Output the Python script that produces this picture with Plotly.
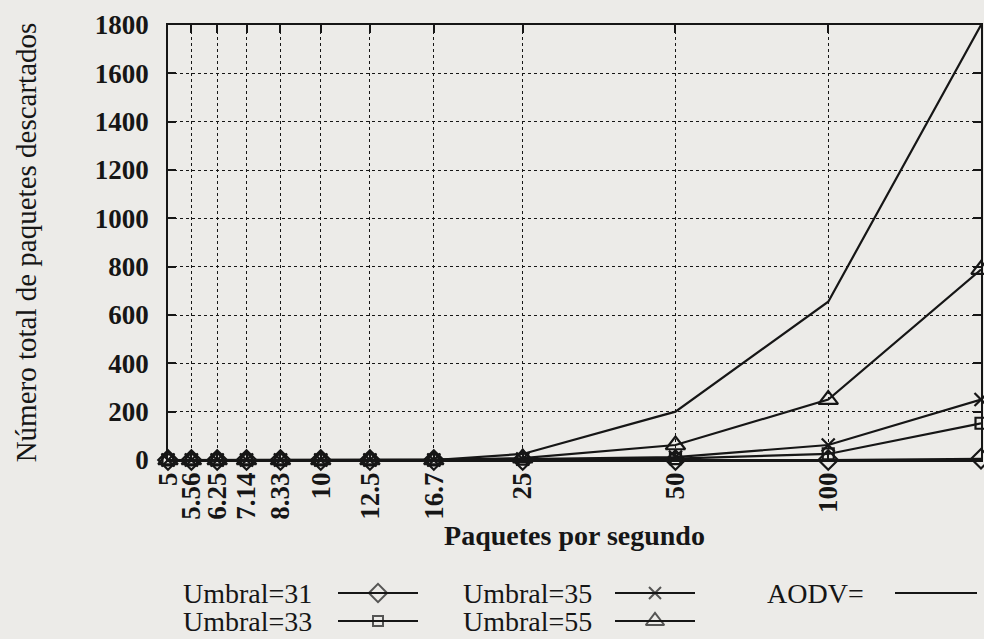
"""Paquetes descartados vs tasa de envío — Umbral 31/33/35/55 y AODV."""
import plotly.graph_objects as go

W, H = 984, 639

# --- data --------------------------------------------------------------
rates = [5, 5.56, 6.25, 7.14, 8.33, 10, 12.5, 16.7, 25, 50, 100, 200]
rate_labels = ["5", "5.56", "6.25", "7.14", "8.33", "10", "12.5", "16.7", "25", "50", "100", "200"]

umbral_31 = [0, 0, 0, 0, 0, 0, 0, 0, 0, 0, 0, 5]
umbral_33 = [0, 0, 0, 0, 0, 0, 0, 0, 3, 6, 25, 152]
umbral_35 = [0, 0, 0, 0, 0, 0, 0, 0, 4, 12, 62, 250]
umbral_55 = [0, 0, 0, 0, 0, 0, 0, 0, 8, 62, 250, 788]
aodv      = [0, 0, 0, 0, 0, 0, 0, 0, 25, 200, 655, 1800]

y_ticks = [0, 200, 400, 600, 800, 1000, 1200, 1400, 1600, 1800]

_INK = "#161616"
_PAPER = "#ecebe8"
_SERIF = "Liberation Serif, Times New Roman, serif"

series = [
    ("Umbral=31", umbral_31, "diamond-open", 15),
    ("Umbral=33", umbral_33, "square-open", 11),
    ("Umbral=35", umbral_35, "x-thin-open", 13),
    ("Umbral=55", umbral_55, "triangle-up-open", 17),
    ("AODV=", aodv, None, 0),
]

fig = go.Figure()

for name, vals, sym, size in series:
    fig.add_scatter(
        x=rates, y=vals, name=name, showlegend=False, cliponaxis=False,
        mode="lines+markers" if sym else "lines",
        line=dict(color=_INK, width=2.2),
        marker=dict(symbol=sym or "circle", size=size, color=_INK,
                    line=dict(color=_INK, width=2.2)),
    )

# --- hand-made legend (text left of sample, like the original) ---------
# legend lives on its own hidden axes spanning the bottom strip, in pixels
leg_h = 70
leg_slots = [  # text x, sample start, sample end, row y (from strip bottom)
    (181, 338, 418, 46),
    (181, 338, 418, 18),
    (461, 615, 695, 46),
    (461, 615, 695, 18),
    (765, 895, 977, 46),
]
for (name, _, sym, size), (tx, s0, s1, ry) in zip(series, leg_slots):
    mid = (s0 + s1) / 2
    fig.add_scatter(
        x=[s0, mid, s1], y=[ry, ry, ry], xaxis="x2", yaxis="y2",
        showlegend=False, hoverinfo="skip", cliponaxis=False,
        mode="lines+markers" if sym else "lines",
        line=dict(color=_INK, width=2),
        marker=dict(symbol=sym or "circle", size=[0, max(size - 1, 0), 0],
                    color=_INK, line=dict(color=_INK, width=2)),
    )
    fig.add_annotation(x=tx, y=ry, xref="x2", yref="y2", text=name,
                       showarrow=False, xanchor="left", yanchor="middle",
                       font=dict(family=_SERIF, size=28, color=_INK))

axis_common = dict(
    showline=True, linecolor=_INK, linewidth=1.5, mirror="ticks",
    ticks="inside", ticklen=8, tickwidth=1.5, tickcolor=_INK,
    showgrid=True, gridcolor=_INK, gridwidth=1, griddash="dot",
    zeroline=False, automargin=False,
)

fig.update_layout(
    width=W, height=H,
    margin=dict(l=0, r=0, t=0, b=0),
    paper_bgcolor=_PAPER, plot_bgcolor=_PAPER,
    font=dict(family=_SERIF, color=_INK),
    xaxis=dict(
        type="log", range=[0.69897, 2.30103],
        domain=[168 / W, 981 / W],
        tickvals=rates, ticktext=rate_labels, tickangle=-90,
        tickfont=dict(size=27, family=_SERIF, weight="bold"),
        title=dict(text="<b>Paquetes por segundo</b>", standoff=0,
                   font=dict(size=28)),
        **axis_common,
    ),
    yaxis=dict(
        range=[0, 1800], domain=[1 - 460 / H, 1 - 25 / H],
        tickvals=y_ticks,
        tickfont=dict(size=27, family=_SERIF, weight="bold"),
        ticklabelstandoff=12,
        title=dict(text="Número total de paquetes descartados", standoff=50,
                   font=dict(size=29)),
        **axis_common,
    ),
    xaxis2=dict(domain=[0, 1], range=[0, W], anchor="y2", visible=False,
                fixedrange=True),
    yaxis2=dict(domain=[0, leg_h / H], range=[0, leg_h], anchor="x2",
                visible=False, fixedrange=True),
)

# page body margin would push the figure 8px off the window
fig.write_html("out.html", config={"displayModeBar": False},
               post_script="document.body.style.margin='0';")
